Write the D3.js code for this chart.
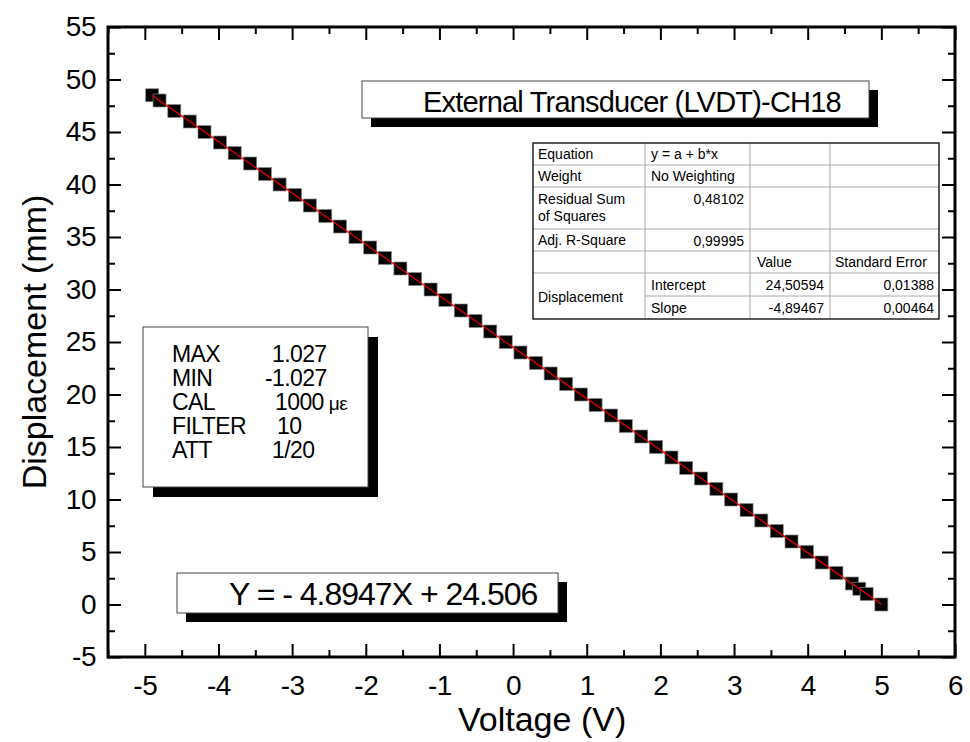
<!DOCTYPE html>
<html>
<head>
<meta charset="utf-8">
<script src="https://cdn.jsdelivr.net/npm/d3@7"></script>
<style>
  body { margin: 0; background: #fff; }
  svg, svg text { font-family: "Liberation Sans", Arial, sans-serif; }
  .axis text { font-size: 28px; fill: #000; letter-spacing: -0.5px; }
  .axis line { stroke: #000; stroke-width: 2; }
  .axis path { display: none; }
  .cell { font-size: 14px; fill: #000; }
</style>
</head>
<body>
<script>
// calibration points (voltage V, displacement mm)
const voltage = [-4.90, -4.80, -4.60, -4.39, -4.19, -3.98, -3.78, -3.57, -3.37, -3.17,
  -2.96, -2.76, -2.55, -2.35, -2.14, -1.94, -1.74, -1.53, -1.33, -1.12,
  -0.92, -0.71, -0.51, -0.31, -0.10, 0.10, 0.31, 0.51, 0.72, 0.92,
  1.12, 1.33, 1.53, 1.74, 1.94, 2.15, 2.35, 2.55, 2.76, 2.96,
  3.17, 3.37, 3.58, 3.78, 3.99, 4.19, 4.39, 4.60, 4.70, 4.80, 5.00]
const displacement = [48.5, 48, 47, 46, 45, 44, 43, 42, 41, 40,
  39, 38, 37, 36, 35, 34, 33, 32, 31, 30,
  29, 28, 27, 26, 25, 24, 23, 22, 21, 20,
  19, 18, 17, 16, 15, 14, 13, 12, 11, 10,
  9, 8, 7, 6, 5, 4, 3, 2, 1.5, 1, 0]

// linear fit
const fitIntercept = 24.50594
const fitSlope = -4.89467
const fitErrors = ["0,01388", "0,00464"]
const statNames = ["Equation", "Weight", "Residual Sum|of Squares", "Adj. R-Square"]
const statValues = ["y = a + b*x", "No Weighting", "0,48102", "0,99995"]
const paramNames = ["Intercept", "Slope"]

// tick labels
const xTicks = [-5, -4, -3, -2, -1, 0, 1, 2, 3, 4, 5, 6]
const yTicks = [-5, 0, 5, 10, 15, 20, 25, 30, 35, 40, 45, 50, 55]

// annotation texts
const titleText = "External Transducer (LVDT)-CH18"
const equationText = "Y = - 4.8947X + 24.506"
const infoLabels = ["MAX", "MIN", "CAL", "FILTER", "ATT"]
const infoValues = ["1.027", "-1.027", "1000", "10", "1/20"]

let x = d3.scaleLinear().domain([-5.5, 6]).range([108, 955])
let y = d3.scaleLinear().domain([-5, 55]).range([657, 27])

let svg = d3.select('body').append('svg')
    .attr('width', 970)
    .attr('height', 742)

const xMinor = d3.range(-5.5, 6.01, 0.5).filter(v => !xTicks.includes(v))
const yMinor = d3.range(-5, 55.01, 2.5).filter(v => !yTicks.includes(v))
const fmt = d => String(d)

// axes: major + minor ticks, all pointing inward
function addAxis(axisFn, scale, major, minor, transform, pad, labels) {
  svg.append('g').attr('class', 'axis').attr('transform', transform)
      .call(axisFn(scale).tickValues(major).tickSizeInner(-13).tickSizeOuter(0)
        .tickPadding(pad).tickFormat(labels ? fmt : ''))
  svg.append('g').attr('class', 'axis').attr('transform', transform)
      .call(axisFn(scale).tickValues(minor).tickSizeInner(-7).tickSizeOuter(0).tickFormat(''))
}
addAxis(d3.axisBottom, x, xTicks, xMinor, `translate(0,${y(-5)})`, 18, true)
addAxis(d3.axisTop, x, xTicks, xMinor, `translate(0,${y(55)})`, 0, false)
addAxis(d3.axisLeft, y, yTicks, yMinor, `translate(${x(-5.5)},0)`, 12, true)
addAxis(d3.axisRight, y, yTicks, yMinor, `translate(${x(6)},0)`, 0, false)
svg.selectAll('.axis text').attr('font-family', '"Liberation Sans", Arial, sans-serif')

// frame
svg.append('rect')
    .attr('x', x(-5.5)).attr('y', y(55))
    .attr('width', x(6) - x(-5.5)).attr('height', y(-5) - y(55))
    .attr('fill', 'none').attr('stroke', '#000').attr('stroke-width', 3)

// axis titles
svg.append('text')
    .attr('x', 458).attr('y', 731)
    .style('font-size', '34px')
    .text('Voltage (V)')
svg.append('text')
    .attr('transform', `translate(46,${(y(55) + y(-5)) / 2}) rotate(-90)`)
    .attr('text-anchor', 'middle')
    .style('font-size', '34px')
    .text('Displacement (mm)')

// data points
const sq = 13
svg.append('g').selectAll('rect')
  .data(voltage.map((v, i) => ({v: v, d: displacement[i]})))
  .join('rect')
    .attr('x', d => x(d.v) - sq / 2)
    .attr('y', d => y(d.d) - sq / 2)
    .attr('width', sq).attr('height', sq)
    .attr('fill', '#000')
    .attr('stroke', '#888').attr('stroke-width', 0.7)

// fit line
const xr = d3.extent(voltage)
svg.append('line')
    .attr('x1', x(xr[0])).attr('y1', y(fitIntercept + fitSlope * xr[0]))
    .attr('x2', x(xr[1])).attr('y2', y(fitIntercept + fitSlope * xr[1]))
    .attr('stroke', '#e00000').attr('stroke-width', 1.3)

// boxes with drop shadow
function shadowBox(bx, by, bw, bh, off) {
  svg.append('rect').attr('x', bx + off).attr('y', by + off)
      .attr('width', bw).attr('height', bh).attr('fill', '#000')
  svg.append('rect').attr('x', bx).attr('y', by)
      .attr('width', bw).attr('height', bh)
      .attr('fill', '#fff').attr('stroke', '#444').attr('stroke-width', 1)
}

shadowBox(362, 81, 507, 37, 9)
svg.append('text').attr('x', 423).attr('y', 112)
    .style('font-size', '29px').style('letter-spacing', '-0.8px').text(titleText)

shadowBox(177, 573, 381, 40, 9)
svg.append('text').attr('x', 229).attr('y', 605)
    .style('font-size', '32px').style('letter-spacing', '-1px').text(equationText)

shadowBox(143, 327, 225, 160, 10)
const valueX = [272, 265, 275, 277, 272]
let info = svg.append('g').style('font-size', '23px').style('letter-spacing', '-0.6px')
info.selectAll('.lab').data(infoLabels).join('text')
    .attr('x', 172).attr('y', (d, i) => 362 + i * 24).text(d => d)
let vals = info.selectAll('.val').data(infoValues).join('text')
    .attr('x', (d, i) => valueX[i]).attr('y', (d, i) => 362 + i * 24).text(d => d)
vals.filter((d, i) => i === 2).append('tspan')
    .attr('dx', 5).style('font-size', '19px').text('με')

// fit results table
const cols = [533, 645, 750, 830, 939]
const rows = [143, 165, 187, 229, 251, 273, 296, 319]
const locale = d3.formatLocale({decimal: ',', thousands: '.', grouping: [3], currency: ['', ''], minus: '-'})
const f5 = locale.format('.5f')
let tbl = svg.append('g')
tbl.append('rect').attr('x', cols[0]).attr('y', rows[0])
    .attr('width', cols[4] - cols[0]).attr('height', rows[7] - rows[0])
    .attr('fill', '#fff')
const grey = '#a8a8a8'
rows.slice(1, 6).forEach(r => tbl.append('line').attr('x1', cols[0]).attr('x2', cols[4])
    .attr('y1', r).attr('y2', r).attr('stroke', grey))
tbl.append('line').attr('x1', cols[1]).attr('x2', cols[4])
    .attr('y1', rows[6]).attr('y2', rows[6]).attr('stroke', grey)
cols.slice(1, 4).forEach(c => tbl.append('line').attr('x1', c).attr('x2', c)
    .attr('y1', rows[0]).attr('y2', rows[7]).attr('stroke', grey))
tbl.append('rect').attr('x', cols[0]).attr('y', rows[0])
    .attr('width', cols[4] - cols[0]).attr('height', rows[7] - rows[0])
    .attr('fill', 'none').attr('stroke', '#000').attr('stroke-width', 1.3)

function cell(tx, ty, t, anchor) {
  tbl.append('text').attr('class', 'cell').attr('x', tx).attr('y', ty)
      .attr('text-anchor', anchor || 'start').text(t)
}
statNames.forEach((s, i) => {
  const parts = s.split('|')
  parts.forEach((p, j) => cell(cols[0] + 5, rows[i] + (i === 2 ? 17 + j * 17 : 16), p))
})
statValues.forEach((s, i) => {
  if (i < 2) cell(cols[1] + 6, rows[i] + 16, s)
  else cell(cols[2] - 6, rows[i] + 17, s, 'end')
})
cell(cols[2] + 7, rows[4] + 16, 'Value')
cell(cols[3] + 5, rows[4] + 16, 'Standard Error')
cell(cols[0] + 5, (rows[5] + rows[7]) / 2 + 6, 'Displacement')
const paramValues = [fitIntercept, fitSlope]
paramNames.forEach((p, i) => {
  cell(cols[1] + 6, rows[5 + i] + 17, p)
  cell(cols[3] - 6, rows[5 + i] + 17, f5(paramValues[i]), 'end')
  cell(cols[4] - 5, rows[5 + i] + 17, fitErrors[i], 'end')
})
</script>
</body>
</html>
